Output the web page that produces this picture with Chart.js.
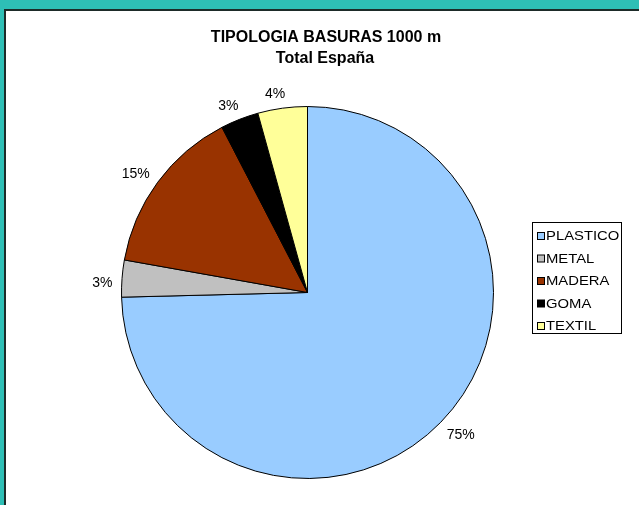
<!DOCTYPE html>
<html>
<head>
<meta charset="utf-8">
<script src="https://cdn.jsdelivr.net/npm/chart.js@4"></script>
<style>
  html, body { margin: 0; padding: 0; background: #fff; }
  canvas { display: block; }
</style>
</head>
<body>
<canvas id="pie" width="639" height="505"></canvas>
<script>
// data
const categories = ['PLASTICO', 'METAL', 'MADERA', 'GOMA', 'TEXTIL'];
const shares     = [74.6, 3.2, 14.6, 3.3, 4.3];
const colors     = ['#99CCFF', '#C0C0C0', '#993300', '#000000', '#FFFF99'];
const titleLines = ['TIPOLOGIA BASURAS 1000 m', 'Total España'];

const FONT = '"Liberation Sans", Arial, sans-serif';

/* ---- teal frame behind everything ---- */
const framePlugin = {
  id: 'frame',
  beforeDraw(chart) {
    const { ctx, width, height } = chart;
    ctx.save();
    ctx.fillStyle = '#ffffff';
    ctx.fillRect(0, 0, width, height);
    ctx.fillStyle = '#2EBFB6';
    ctx.fillRect(0, 0, width, 9);
    ctx.fillRect(0, 0, 4, height);
    ctx.fillStyle = '#1d2b29';
    ctx.fillRect(4, 9, width - 4, 2);
    ctx.fillRect(4, 9, 2, height - 9);
    ctx.restore();
  }
};

/* ---- title, % labels and legend box ---- */
const overlayPlugin = {
  id: 'overlay',
  afterDatasetsDraw(chart) {
    const { ctx } = chart;
    const meta  = chart.getDatasetMeta(0);
    const total = shares.reduce((a, b) => a + b, 0);
    ctx.save();

    // title
    ctx.fillStyle = '#000';
    ctx.textAlign = 'center';
    ctx.textBaseline = 'alphabetic';
    ctx.font = 'bold 16px ' + FONT;
    ctx.fillText(titleLines[0], 326, 42);
    ctx.fillText(titleLines[1], 325, 63);

    // percentage labels outside the slices (excel nudges them a touch anticlockwise)
    ctx.font = '14px ' + FONT;
    ctx.textBaseline = 'middle';
    meta.data.forEach((arc, i) => {
      const mid = (arc.startAngle + arc.endAngle) / 2 - 0.026;
      const dx = Math.cos(mid), dy = Math.sin(mid);
      const txt = Math.round(shares[i] / total * 100) + '%';
      const hw = ctx.measureText(txt).width / 2, hh = 5;
      const r = arc.outerRadius + 9 + Math.abs(dx) * hw + Math.abs(dy) * hh;
      ctx.fillText(txt, arc.x + dx * r, arc.y + dy * r + 1);
    });

    // legend
    ctx.strokeStyle = '#000';
    ctx.lineWidth = 1;
    ctx.strokeRect(532.5, 222.5, 89, 111);
    ctx.font = '13px ' + FONT;
    ctx.textAlign = 'left';
    categories.forEach((name, i) => {
      const y = 236 + i * 22.5;
      ctx.fillStyle = colors[i];
      ctx.fillRect(537.5, y - 3.5, 7, 7);
      ctx.strokeRect(537.5, y - 3.5, 7, 7);
      ctx.fillStyle = '#000';
      ctx.save();
      ctx.translate(546, y + 0.5);
      ctx.scale(1.14, 1);
      ctx.fillText(name, 0, 0);
      ctx.restore();
    });

    ctx.restore();
  }
};

new Chart(document.getElementById('pie'), {
  type: 'pie',
  data: {
    labels: categories,
    datasets: [{
      data: shares,
      backgroundColor: colors,
      borderColor: '#000',
      borderWidth: 1,
    }],
  },
  options: {
    responsive: false,
    animation: false,
    devicePixelRatio: 1,
    layout: { padding: { left: 121, right: 145, top: 106, bottom: 26 } },
    plugins: {
      legend:  { display: false },
      title:   { display: false },
      tooltip: { enabled: false },
    },
  },
  plugins: [framePlugin, overlayPlugin],
});
</script>
</body>
</html>
